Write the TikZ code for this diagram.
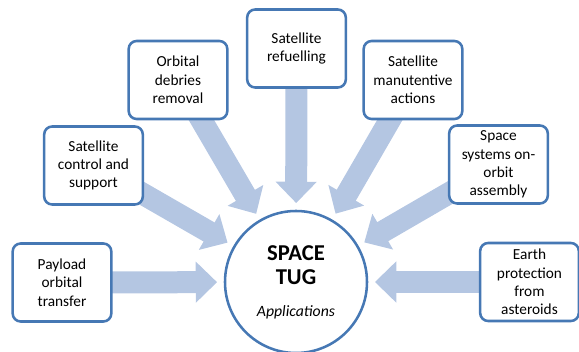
\documentclass[tikz,border=0pt]{standalone}
\usepackage{fontspec}
\setmainfont{Carlito}
\usetikzlibrary{arrows.meta,backgrounds}
\definecolor{tugblue}{RGB}{70,120,180}
\definecolor{tugarrow}{RGB}{180,198,226}

\begin{document}
\begin{tikzpicture}[x=0.75pt,y=-0.75pt,% one unit is one pixel, y runs downwards
        appbox/.style={draw=tugblue,line width=1.9pt,fill=white,rounded corners=6pt,
          minimum width=74pt,minimum height=58.5pt,inner sep=2pt,align=center,
          font=\fontsize{11.5}{13.8}\selectfont},%the application boxes
        fatarrow/.style={draw=tugarrow,line width=16.5pt,
          -{Triangle[width=30pt,length=16pt]},shorten >=5pt}]
\useasboundingbox (0,0) rectangle (579,352);
\node[circle,draw=tugblue,line width=1.9pt,minimum size=106.5pt,align=center,
      font=\fontsize{17}{18}\selectfont\bfseries] (tug) at (296,282)
      {SPACE\\TUG\\[6pt]{\normalfont\fontsize{11.8}{13}\selectfont\itshape Applications}};
\foreach \name/\x/\y/\txt in {%
  payload/62/282.5/{Payload\\orbital\\transfer},
  control/93.5/165.5/{Satellite\\control and\\support},
  debris/178/80/{Orbital\\debries\\removal},
  refuel/296.5/48.5/{Satellite\\refuelling},
  manut/413/80/{Satellite\\manutentive\\actions},
  assembly/498.5/164.5/{Space\\systems on-\\orbit\\assembly},
  earth/529.5/282/{Earth\\protection\\from\\asteroids}}{ %\name is the node, \txt its label
\node[appbox] (\name) at (\x,\y) {\txt};
}

\begin{scope}[on background layer]
\foreach \name in {payload,control,debris,refuel,manut,assembly,earth}
  \draw[fatarrow] (\name.center) -- (tug); % every arrow aims at the tug
\end{scope}
\end{tikzpicture}
\end{document}
